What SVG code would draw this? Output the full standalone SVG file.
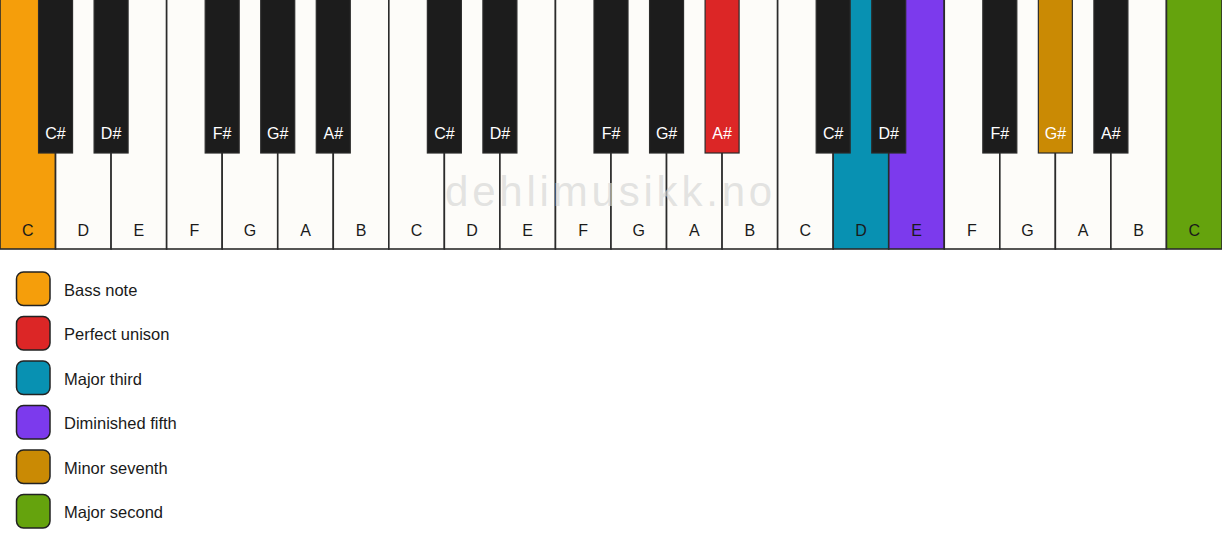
<svg xmlns="http://www.w3.org/2000/svg" width="1222" height="550" viewBox="0 0 1222 550">
<style>
.wk{fill:#FDFCF9;stroke:#2b2b2b;stroke-width:1.6}
.bk{fill:#1C1C1C;stroke:#2b2b2b;stroke-width:1.2}
.wl{font-family:"Liberation Sans",Arial,sans-serif;font-size:16px;fill:#1a1a1a;text-anchor:middle}
.bl{font-family:"Liberation Sans",Arial,sans-serif;font-size:16px;fill:#ffffff;text-anchor:middle}
.lg{stroke:#222;stroke-width:1.5}
.lt{font-family:"Liberation Sans",Arial,sans-serif;font-size:16.5px;fill:#1a1a1a}
.wm{font-family:"Liberation Sans",Arial,sans-serif;font-size:42px;fill:#d4d4d4;fill-opacity:0.65;letter-spacing:3.8px}
</style>
<rect width="1222" height="550" fill="#ffffff"/>
<g id="white-keys">
<g id="wk0"><rect class="wk" x="0" y="-1" width="55.55" height="250" style="fill:#F59E0B"/><text class="wl" x="27.8" y="236">C</text></g>
<g id="wk1"><rect class="wk" x="55.55" y="-1" width="55.55" height="250"/><text class="wl" x="83.3" y="236">D</text></g>
<g id="wk2"><rect class="wk" x="111.09" y="-1" width="55.55" height="250"/><text class="wl" x="138.9" y="236">E</text></g>
<g id="wk3"><rect class="wk" x="166.64" y="-1" width="55.55" height="250"/><text class="wl" x="194.4" y="236">F</text></g>
<g id="wk4"><rect class="wk" x="222.18" y="-1" width="55.55" height="250"/><text class="wl" x="250" y="236">G</text></g>
<g id="wk5"><rect class="wk" x="277.73" y="-1" width="55.55" height="250"/><text class="wl" x="305.5" y="236">A</text></g>
<g id="wk6"><rect class="wk" x="333.27" y="-1" width="55.55" height="250"/><text class="wl" x="361" y="236">B</text></g>
<g id="wk7"><rect class="wk" x="388.82" y="-1" width="55.55" height="250"/><text class="wl" x="416.6" y="236">C</text></g>
<g id="wk8"><rect class="wk" x="444.36" y="-1" width="55.55" height="250"/><text class="wl" x="472.1" y="236">D</text></g>
<g id="wk9"><rect class="wk" x="499.91" y="-1" width="55.55" height="250"/><text class="wl" x="527.7" y="236">E</text></g>
<g id="wk10"><rect class="wk" x="555.45" y="-1" width="55.55" height="250"/><text class="wl" x="583.2" y="236">F</text></g>
<g id="wk11"><rect class="wk" x="611" y="-1" width="55.55" height="250"/><text class="wl" x="638.8" y="236">G</text></g>
<g id="wk12"><rect class="wk" x="666.55" y="-1" width="55.55" height="250"/><text class="wl" x="694.3" y="236">A</text></g>
<g id="wk13"><rect class="wk" x="722.09" y="-1" width="55.55" height="250"/><text class="wl" x="749.9" y="236">B</text></g>
<g id="wk14"><rect class="wk" x="777.64" y="-1" width="55.55" height="250"/><text class="wl" x="805.4" y="236">C</text></g>
<g id="wk15"><rect class="wk" x="833.18" y="-1" width="55.55" height="250" style="fill:#0891B2"/><text class="wl" x="861" y="236">D</text></g>
<g id="wk16"><rect class="wk" x="888.73" y="-1" width="55.55" height="250" style="fill:#7C3AED"/><text class="wl" x="916.5" y="236">E</text></g>
<g id="wk17"><rect class="wk" x="944.27" y="-1" width="55.55" height="250"/><text class="wl" x="972" y="236">F</text></g>
<g id="wk18"><rect class="wk" x="999.82" y="-1" width="55.55" height="250"/><text class="wl" x="1027.6" y="236">G</text></g>
<g id="wk19"><rect class="wk" x="1055.36" y="-1" width="55.55" height="250"/><text class="wl" x="1083.1" y="236">A</text></g>
<g id="wk20"><rect class="wk" x="1110.91" y="-1" width="55.55" height="250"/><text class="wl" x="1138.7" y="236">B</text></g>
<g id="wk21"><rect class="wk" x="1166.45" y="-1" width="55.55" height="250" style="fill:#65A30D"/><text class="wl" x="1194.2" y="236">C</text></g>
</g>
<text class="wm" x="445" y="206">dehlimusikk.no</text>
<g id="black-keys">
<g id="bk1"><rect class="bk" x="38.55" y="-1" width="34" height="154"/><text class="bl" x="55.55" y="139">C#</text></g>
<g id="bk2"><rect class="bk" x="94.09" y="-1" width="34" height="154"/><text class="bl" x="111.09" y="139">D#</text></g>
<g id="bk4"><rect class="bk" x="205.18" y="-1" width="34" height="154"/><text class="bl" x="222.18" y="139">F#</text></g>
<g id="bk5"><rect class="bk" x="260.73" y="-1" width="34" height="154"/><text class="bl" x="277.73" y="139">G#</text></g>
<g id="bk6"><rect class="bk" x="316.27" y="-1" width="34" height="154"/><text class="bl" x="333.27" y="139">A#</text></g>
<g id="bk8"><rect class="bk" x="427.36" y="-1" width="34" height="154"/><text class="bl" x="444.36" y="139">C#</text></g>
<g id="bk9"><rect class="bk" x="482.91" y="-1" width="34" height="154"/><text class="bl" x="499.91" y="139">D#</text></g>
<g id="bk11"><rect class="bk" x="594" y="-1" width="34" height="154"/><text class="bl" x="611" y="139">F#</text></g>
<g id="bk12"><rect class="bk" x="649.55" y="-1" width="34" height="154"/><text class="bl" x="666.55" y="139">G#</text></g>
<g id="bk13"><rect class="bk" x="705.09" y="-1" width="34" height="154" style="fill:#DC2626"/><text class="bl" x="722.09" y="139">A#</text></g>
<g id="bk15"><rect class="bk" x="816.18" y="-1" width="34" height="154"/><text class="bl" x="833.18" y="139">C#</text></g>
<g id="bk16"><rect class="bk" x="871.73" y="-1" width="34" height="154"/><text class="bl" x="888.73" y="139">D#</text></g>
<g id="bk18"><rect class="bk" x="982.82" y="-1" width="34" height="154"/><text class="bl" x="999.82" y="139">F#</text></g>
<g id="bk19"><rect class="bk" x="1038.36" y="-1" width="34" height="154" style="fill:#CA8A04"/><text class="bl" x="1055.36" y="139">G#</text></g>
<g id="bk20"><rect class="bk" x="1093.91" y="-1" width="34" height="154"/><text class="bl" x="1110.91" y="139">A#</text></g>
</g>
<g id="legend">
<g id="lg-bass"><rect class="lg" x="16.5" y="272" width="33.5" height="33.5" rx="7" fill="#F59E0B"/><text class="lt" x="64" y="295.5">Bass note</text></g>
<g id="lg-unison"><rect class="lg" x="16.5" y="316.5" width="33.5" height="33.5" rx="7" fill="#DC2626"/><text class="lt" x="64" y="340">Perfect unison</text></g>
<g id="lg-third"><rect class="lg" x="16.5" y="361" width="33.5" height="33.5" rx="7" fill="#0891B2"/><text class="lt" x="64" y="384.5">Major third</text></g>
<g id="lg-fifth"><rect class="lg" x="16.5" y="405.5" width="33.5" height="33.5" rx="7" fill="#7C3AED"/><text class="lt" x="64" y="429">Diminished fifth</text></g>
<g id="lg-seventh"><rect class="lg" x="16.5" y="450" width="33.5" height="33.5" rx="7" fill="#CA8A04"/><text class="lt" x="64" y="473.5">Minor seventh</text></g>
<g id="lg-second"><rect class="lg" x="16.5" y="494.5" width="33.5" height="33.5" rx="7" fill="#65A30D"/><text class="lt" x="64" y="518">Major second</text></g>
</g>
</svg>
